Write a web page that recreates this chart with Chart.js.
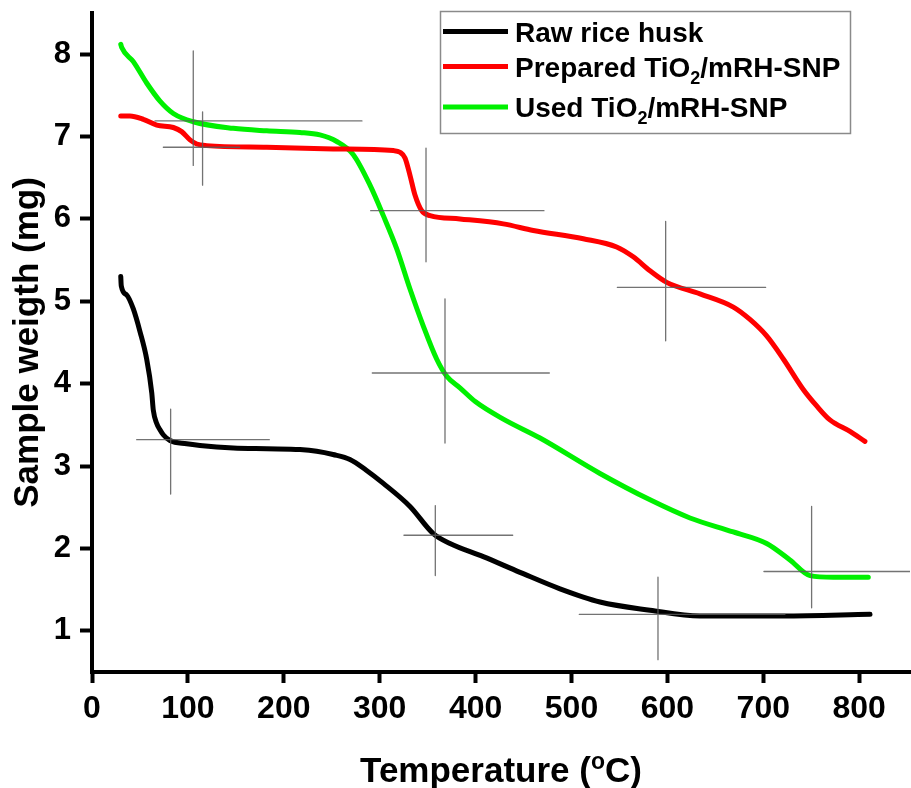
<!DOCTYPE html>
<html>
<head>
<meta charset="utf-8">
<script src="https://cdn.jsdelivr.net/npm/chart.js@4"></script>
<style>
  html, body { margin: 0; padding: 0; background: #fff; }
</style>
</head>
<body>
<canvas id="chart" width="911" height="788"></canvas>
<script>
// TGA curves: temperature (oC) vs sample weight (mg)
const rawT = [30, 30.5, 36, 43, 50.1, 57.0, 62.3, 63.9, 67.4, 70.9, 74.3, 81.3, 98.7, 112.6, 147.3, 182.2, 216.9, 234.3, 251.3, 269.0, 286.0, 303.8, 331.6, 355.9, 373.3, 408.0, 446.3, 488.0, 529.7, 581.9, 634.0, 720.5, 811.3];
const rawW = [5.30, 5.19, 5.08, 4.91, 4.63, 4.30, 3.89, 3.68, 3.52, 3.44, 3.38, 3.31, 3.27, 3.25, 3.22, 3.21, 3.20, 3.18, 3.14, 3.08, 2.95, 2.79, 2.51, 2.18, 2.06, 1.90, 1.71, 1.51, 1.35, 1.25, 1.18, 1.18, 1.20];

const prepT = [30, 39.6, 53.5, 67.5, 84.8, 93.5, 102.2, 109.2, 119.6, 182.2, 251.6, 314.2, 321.2, 326.4, 331.6, 336.8, 343.8, 352.5, 383.7, 428.9, 460.2, 512.3, 547.1, 564.4, 581.9, 599.3, 634.0, 668.8, 686.1, 703.5, 720.9, 741.7, 755.7, 769.5, 790.4, 806.0];
const prepW = [7.25, 7.25, 7.21, 7.14, 7.11, 7.06, 6.96, 6.91, 6.89, 6.87, 6.85, 6.83, 6.81, 6.74, 6.53, 6.29, 6.10, 6.04, 6.00, 5.94, 5.86, 5.76, 5.66, 5.54, 5.37, 5.23, 5.09, 4.93, 4.78, 4.58, 4.30, 3.93, 3.73, 3.56, 3.42, 3.30];

const usedT = [30, 31, 43.1, 57.0, 70.9, 84.8, 105.6, 147.3, 182.2, 216.9, 237.7, 255.2, 272.5, 289.9, 303.8, 317.7, 331.6, 345.5, 359.4, 369.9, 383.7, 400.0, 428.9, 467.2, 529.7, 581.9, 623.6, 668.7, 703.5, 727.8, 748.7, 773.0, 809.5];
const usedW = [8.12, 8.08, 7.91, 7.65, 7.43, 7.28, 7.18, 7.10, 7.07, 7.05, 7.02, 6.94, 6.78, 6.41, 6.04, 5.64, 5.15, 4.70, 4.30, 4.09, 3.95, 3.78, 3.57, 3.34, 2.91, 2.59, 2.37, 2.20, 2.06, 1.86, 1.67, 1.65, 1.65];

// onset/endset crosshair markers
const crossVx   = [105.6, 115.3, 348.3, 368.1, 598.2, 82.0, 358.0, 590.2, 750.4];
const crossVlo  = [6.65, 6.41, 5.48, 3.28, 4.52, 2.66, 1.67, 0.65, 1.28];
const crossVhi  = [8.04, 7.30, 6.86, 5.03, 5.97, 3.69, 2.52, 1.65, 2.51];
const crossHy   = [7.19, 6.87, 6.10, 4.13, 5.17, 3.32, 2.16, 1.20, 1.72];
const crossHlo  = [65.7, 74.4, 290.6, 292.3, 547.8, 46.6, 325.3, 508.1, 700.7];
const crossHhi  = [281.5, 154.0, 471.3, 476.9, 702.5, 184.9, 438.7, 722.6, 853];

const xTicks = [0, 100, 200, 300, 400, 500, 600, 700, 800];
const yTicks = [1, 2, 3, 4, 5, 6, 7, 8];

const seriesLabels = ["Raw rice husk", "Prepared TiO2/mRH-SNP", "Used TiO2/mRH-SNP"];
// legend text split into pieces, "sub" pieces drawn as subscript
const legendParts = [
  [["Raw rice husk"]],
  [["Prepared TiO"], ["2", "sub"], ["/mRH-SNP"]],
  [["Used TiO"], ["2", "sub"], ["/mRH-SNP"]]
];
const xTitleParts = [["Temperature ("], ["o", "sup"], ["C)"]];

const FONT = "'Liberation Sans', Arial, sans-serif";

function toPoints(xs, ys) {
  return xs.map((x, i) => ({ x: x, y: ys[i] }));
}

function crossPoints() {
  let pts = [];
  for (let i = 0; i < crossVx.length; i++) {
    pts.push({ x: crossVx[i], y: crossVlo[i] }, { x: crossVx[i], y: crossVhi[i] }, { x: crossVx[i], y: null });
    pts.push({ x: crossHlo[i], y: crossHy[i] }, { x: crossHhi[i], y: crossHy[i] }, { x: crossHhi[i], y: null });
  }
  return pts;
}

function drawParts(ctx, parts, x, baseline, size) {
  let cx = x;
  parts.forEach(p => {
    if (p[1] === "sub") {
      ctx.font = "bold " + Math.round(size * 0.64) + "px " + FONT;
      ctx.fillText(p[0], cx, baseline + size * 0.26);
    } else if (p[1] === "sup") {
      ctx.font = "bold " + Math.round(size * 0.66) + "px " + FONT;
      ctx.fillText(p[0], cx, baseline - size * 0.38);
    } else {
      ctx.font = "bold " + size + "px " + FONT;
      ctx.fillText(p[0], cx, baseline);
    }
    cx += ctx.measureText(p[0]).width;
  });
  return cx - x;
}

function partsWidth(ctx, parts, size) {
  let w = 0;
  parts.forEach(p => {
    let s = p[1] === "sub" ? Math.round(size * 0.64) : p[1] === "sup" ? Math.round(size * 0.66) : size;
    ctx.font = "bold " + s + "px " + FONT;
    w += ctx.measureText(p[0]).width;
  });
  return w;
}

const textPlugin = {
  id: "tgaText",
  afterDraw(chart) {
    const ctx = chart.ctx;
    ctx.save();
    ctx.fillStyle = "#000";
    ctx.textBaseline = "alphabetic";
    ctx.textAlign = "left";

    // legend box
    ctx.strokeStyle = "#8a8a8a";
    ctx.lineWidth = 1.5;
    ctx.strokeRect(440.5, 11.5, 410, 122);
    const rows = [31.5, 66.5, 107];
    legendParts.forEach((parts, i) => {
      ctx.strokeStyle = chart.data.datasets[i].borderColor;
      ctx.lineWidth = 5;
      ctx.beginPath();
      ctx.moveTo(443, rows[i]);
      ctx.lineTo(508, rows[i]);
      ctx.stroke();
      drawParts(ctx, parts, 515, rows[i] + 10, 28);
    });

    // x axis title
    const xs = 35;
    const w = partsWidth(ctx, xTitleParts, xs);
    const mid = (chart.chartArea.left + chart.chartArea.right) / 2;
    drawParts(ctx, xTitleParts, mid - w / 2, 782, xs);
    ctx.restore();
  }
};

new Chart(document.getElementById("chart"), {
  type: "line",
  data: {
    datasets: [
      { label: seriesLabels[0], data: toPoints(rawT, rawW), borderColor: "#000000", order: 2 },
      { label: seriesLabels[1], data: toPoints(prepT, prepW), borderColor: "#ff0000", order: 2 },
      { label: seriesLabels[2], data: toPoints(usedT, usedW), borderColor: "#00f000", order: 2 },
      { label: "markers", data: crossPoints(), borderColor: "rgba(90,90,90,0.85)", borderWidth: 1.3,
        tension: 0, cubicInterpolationMode: "default", spanGaps: false, order: 1 }
    ]
  },
  options: {
    responsive: false,
    animation: false,
    devicePixelRatio: 1,
    layout: { padding: { top: 13, right: 1, left: 0, bottom: 0 } },
    elements: {
      line: { borderWidth: 5, tension: 0.4, cubicInterpolationMode: "monotone", borderCapStyle: "round", borderJoinStyle: "round" },
      point: { radius: 0, hoverRadius: 0 }
    },
    plugins: {
      legend: { display: false },
      tooltip: { enabled: false }
    },
    scales: {
      x: {
        type: "linear",
        min: 0,
        max: 853,
        afterBuildTicks: s => { s.ticks = xTicks.map(v => ({ value: v })); },
        afterFit: s => { s.height = 116; s.paddingLeft = 0; s.paddingRight = 0; },
        ticks: { font: { family: FONT, size: 32, weight: "bold" }, color: "#000", padding: 7, maxRotation: 0, autoSkip: false },
        grid: { display: true, drawOnChartArea: false, drawTicks: true, tickLength: 11, tickWidth: 4, tickColor: "#000" },
        border: { display: true, width: 4, color: "#000" }
      },
      y: {
        type: "linear",
        min: 0.5,
        max: 8.5,
        afterBuildTicks: s => { s.ticks = yTicks.map(v => ({ value: v })); },
        afterFit: s => { s.width = 92; s.paddingTop = 0; s.paddingBottom = 0; },
        ticks: { font: { family: FONT, size: 31, weight: "bold" }, color: "#000", padding: 9 },
        grid: { display: true, drawOnChartArea: false, drawTicks: true, tickLength: 12, tickWidth: 4, tickColor: "#000" },
        border: { display: true, width: 4, color: "#000" },
        title: { display: true, text: "Sample weigth (mg)", color: "#000", font: { family: FONT, size: 35, weight: "bold" }, padding: { top: 7, bottom: 0 } }
      }
    }
  },
  plugins: [textPlugin]
});
</script>
</body>
</html>
